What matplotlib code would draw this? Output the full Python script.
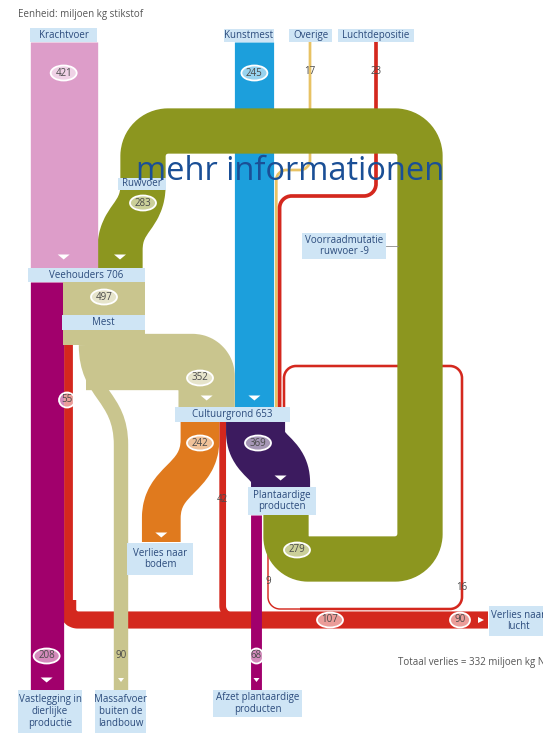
import numpy as np
import matplotlib
matplotlib.use('Agg')
import matplotlib.pyplot as plt
from matplotlib.path import Path
from matplotlib.patches import PathPatch, Ellipse, Rectangle, Polygon

plt.rcParams['font.family'] = ['Open Sans', 'DejaVu Sans']

# stikstofstromen, miljoen kg N
bron_namen   = ['Krachtvoer', 'Kunstmest', 'Overige', 'Luchtdepositie']
bron_waarden = [421, 245, 17, 23]
ruwvoer      = 283
ruwvoer_terug = 279
voorraad_ruwvoer = -9
veehouders   = 706
mest         = 497
vastlegging  = 208
mest_lucht   = 55
mest_cultuur = 352
massafvoer   = 90
cultuurgrond = 653
cultuur_uit  = [242, 369, 42]     # bodem, plantaardig, lucht
cultuur_lucht2 = 16
plant_uit    = [68, 9]            # afzet, lucht
lucht_waarden = [107, 90]
totaal_verlies = 332

DPI = 100
W, H = 543, 733
S = 0.16          # px per miljoen kg
K = 0.5523

PINK, OLIVE, BLUE = '#dd9dc9', '#8c961f', '#1c9fdc'
MAG, RED, BEIGE = '#a1006c', '#d4281e', '#c9c58e'
ORANGE, PURPLE, YEL = '#e07a1e', '#3c1b5f', '#e8c264'
BOX, TXT, NUM = '#cfe5f5', '#2b4b7c', '#4a4a4a'

fig = plt.figure(figsize=(W / DPI, H / DPI), dpi=DPI)
ax = fig.add_axes([0, 0, 1, 1])
ax.set_xlim(0, W)
ax.set_ylim(H, 0)
ax.axis('off')


def route(pts, kinds=None, r=20):
  pts = [np.array(p, float) for p in pts]
  n = len(pts)
  kinds = kinds or ['L'] * (n - 1)
  verts = [pts[0]]
  codes = [Path.MOVETO]
  for i in range(1, n):
    p = pts[i]
    if kinds[i - 1] == 'S':
      p0 = pts[i - 1]
      ym = (p0[1] + p[1]) / 2
      verts += [(p0[0], ym), (p[0], ym), p]
      codes += [Path.CURVE4] * 3
      continue
    if i < n - 1 and kinds[i] == 'L':
      d1 = p - pts[i - 1]; l1 = np.hypot(*d1); d1 = d1 / l1
      d2 = pts[i + 1] - p; l2 = np.hypot(*d2); d2 = d2 / l2
      if abs(d1[0] * d2[1] - d1[1] * d2[0]) > 1e-6:
        rr = min(r, l1 / 2, l2 / 2)
        a = p - d1 * rr
        b = p + d2 * rr
        verts += [a, a + d1 * rr * K, b - d2 * rr * K, b]
        codes += [Path.LINETO, Path.CURVE4, Path.CURVE4, Path.CURVE4]
        continue
    verts.append(p)
    codes.append(Path.LINETO)
  return Path(verts, codes)


def band(pts, value, color, r=20, kinds=None, z=2):
  ax.add_patch(PathPatch(route(pts, kinds, r), fill=False, edgecolor=color,
                         lw=value * S * 72 / DPI, capstyle='butt',
                         joinstyle='round', zorder=z))


def box(x0, y0, x1, y1, text, fs=7):
  ax.add_patch(Rectangle((x0, y0), x1 - x0, y1 - y0, fc=BOX, ec='none', zorder=6))
  ax.text((x0 + x1) / 2, (y0 + y1) / 2, text, ha='center', va='center',
          fontsize=fs, color=TXT, zorder=7, linespacing=1.1)


def oval(x, y, txt, w=26, h=15):
  ax.add_patch(Ellipse((x, y), w, h, fc=(1, 1, 1, 0.55), ec='white', lw=1.3, zorder=7))
  ax.text(x, y, txt, ha='center', va='center', fontsize=7, color=NUM, zorder=8)


def num(x, y, txt):
  ax.text(x, y, txt, ha='center', va='center', fontsize=7, color=NUM, zorder=8)


def arrow(x, y, w=12, h=5, right=False):
  if right:
    pts = [(x - h / 2, y - w / 3), (x - h / 2, y + w / 3), (x + h / 2, y)]
  else:
    pts = [(x - w / 2, y - h / 2), (x + w / 2, y - h / 2), (x, y + h / 2)]
  ax.add_patch(Polygon(pts, closed=True, fc='white', ec='none', zorder=7))


# posities (layout)
x_pink = 30 + bron_waarden[0] * S / 2
x_olive_in = 30 + bron_waarden[0] * S + ruwvoer * S / 2
x_mag = 30 + vastlegging * S / 2
x_red55 = 30 + vastlegging * S + mest_lucht * S / 2
x_blue = 254.4
x_beige = x_blue - bron_waarden[1] * S / 2 - mest_cultuur * S / 2
x_or = 180.6 + cultuur_uit[0] * S / 2
x_r42 = 180.6 + cultuur_uit[0] * S + cultuur_uit[2] * S / 2
x_pur = 180.6 + (cultuur_uit[0] + cultuur_uit[2]) * S + cultuur_uit[1] * S / 2
x_pur2 = x_pur + 25
x_afzet = x_pur2 - cultuur_uit[1] * S / 2 + plant_uit[0] * S / 2
x_olive = 286

# dunne lijnen
band([(310, 42), (310, 170), (276.3, 170), (276.3, 410)], bron_waarden[2], YEL, r=10, z=1)
band([(376, 42), (376, 196), (279.6, 196), (279.6, 410)], bron_waarden[3], RED, r=12, z=1)
band([(284, 410), (284, 366), (462, 366), (462, 609), (300, 609)], cultuur_lucht2, RED, r=12, z=1)
band([(268, 515), (268, 609), (350, 609)], plant_uit[1], RED, r=12, z=1)

# rode verliezen
band([(x_red55, 330), (x_red55, 606)], mest_lucht, RED, z=2)
band([(x_red55, 600), (x_red55, 620), (488, 620)], lucht_waarden[0], RED, r=12, z=2)
band([(x_r42, 422), (x_r42, 616), (262, 616)], cultuur_uit[2], RED, r=10, z=2)

# kunstmest
band([(x_blue, 42), (x_blue, 410)], bron_waarden[1], BLUE, z=2)

# ruwvoer lus
band([(x_olive, 515), (x_olive, 559), (420, 559), (420, 131), (143, 131),
      (143, 185), (x_olive_in, 250), (x_olive_in, 268)],
     ruwvoer, OLIVE, r=25, kinds=['L', 'L', 'L', 'L', 'L', 'S', 'L'], z=3)

# kolommen
band([(x_pink, 42), (x_pink, 268)], bron_waarden[0], PINK, z=4)
band([(x_mag, 282), (x_mag, 690)], vastlegging, MAG, z=4)
band([(x_afzet, 515), (x_afzet, 690)], plant_uit[0], MAG, z=4)
band([(86, 345), (121, 445), (121, 690)], massafvoer, BEIGE, kinds=['S', 'L'], z=4)

# mest en cultuurgrond
m0 = 30 + vastlegging * S
ax.add_patch(Rectangle((m0, 282), 145 - m0, 63, fc=BEIGE, ec='none', zorder=5))
band([(86, 362), (x_beige, 362), (x_beige, 410)], mest_cultuur, BEIGE, r=14, z=5)
band([(x_or, 422), (x_or, 440), (161.3, 518), (161.3, 542)], cultuur_uit[0], ORANGE,
     kinds=['L', 'S', 'L'], z=5)
band([(x_pur, 422), (x_pur, 432), (x_pur2, 482), (x_pur2, 490)], cultuur_uit[1], PURPLE,
     kinds=['L', 'S', 'L'], z=5)

# labels
ax.text(18, 15, 'Eenheid: miljoen kg stikstof', ha='left', va='center', fontsize=7, color='#555555')
box(30, 28, 97, 42, bron_namen[0])
box(224, 29, 274, 42, bron_namen[1])
box(289, 29, 332, 42, bron_namen[2])
box(338, 29, 414, 42, bron_namen[3])
box(118, 178, 166, 190, 'Ruwvoer')
box(28, 268, 145, 282, 'Veehouders %d' % veehouders)
box(62, 315, 145, 330, 'Mest')
box(175, 407, 290, 422, 'Cultuurgrond %d' % cultuurgrond)
box(248, 487, 316, 515, 'Plantaardige\nproducten')
box(127, 543, 193, 575, 'Verlies naar\nbodem')
box(302, 233, 386, 259, 'Voorraadmutatie\nruwvoer %d' % voorraad_ruwvoer)
ax.plot([386, 398], [246, 246], color='#8a8a8a', lw=0.6, zorder=6)
box(489, 606, 548, 636, 'Verlies naar\nlucht')
box(18, 690, 82, 733, 'Vastlegging in\ndierlijke\nproductie')
box(95, 690, 146, 733, 'Massafvoer\nbuiten de\nlandbouw')
box(213, 690, 302, 717, 'Afzet plantaardige\nproducten')
ax.text(398, 663, 'Totaal verlies = %d miljoen kg N' % totaal_verlies, ha='left', va='center',
        fontsize=7, color='#555555', clip_on=False)

oval(x_pink, 73, str(bron_waarden[0]))
oval(x_blue, 73, str(bron_waarden[1]))
num(310, 72, str(bron_waarden[2]))
num(376, 72, str(bron_waarden[3]))
oval(143, 203, str(ruwvoer))
oval(104, 297, str(mest))
oval(67, 400, str(mest_lucht), w=16)
oval(200, 378, str(mest_cultuur))
oval(200, 443, str(cultuur_uit[0]))
oval(258, 443, str(cultuur_uit[1]))
num(222, 500, str(cultuur_uit[2]))
oval(297, 550, str(ruwvoer_terug))
num(268, 582, str(plant_uit[1]))
num(462, 587, str(cultuur_lucht2))
oval(330, 620, str(lucht_waarden[0]))
oval(460, 620, str(lucht_waarden[1]), w=20)
oval(x_mag, 656, str(vastlegging))
num(121, 655, str(massafvoer))
oval(x_afzet, 656, str(plant_uit[0]), w=14)

for ax_, ay_ in [(x_pink, 257), (x_olive_in, 257), (x_blue, 398), (x_beige, 398),
                 (161.3, 535), (x_pur2, 478), (x_mag, 680)]:
  arrow(ax_, ay_)
arrow(121, 680, w=6, h=4)
arrow(x_afzet, 680, w=6, h=4)
arrow(481, 620, w=9, h=6, right=True)

ax.text(290, 172, 'mehr informationen', ha='center', va='center', fontsize=23.5,
        color='#1a4f96', zorder=9)

fig.savefig('out.png', dpi=DPI)
